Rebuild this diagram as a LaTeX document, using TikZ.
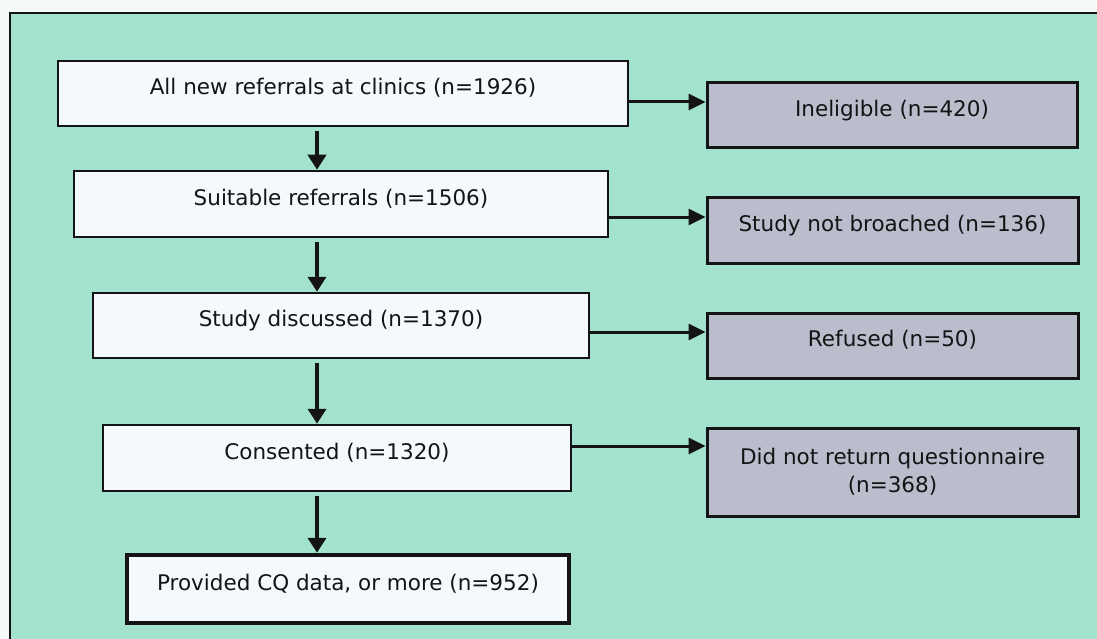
\documentclass[tikz,border=0pt]{standalone}
\usepackage{fontspec}
\setmainfont{DejaVu Sans}
\usetikzlibrary{arrows.meta}
\definecolor{pagebg}{HTML}{F3FAF8}
\definecolor{mint}{HTML}{A3E2CE}
\definecolor{boxwhite}{HTML}{F3F9FC}
\definecolor{boxgray}{HTML}{B9BDCC}
\definecolor{ink}{HTML}{141414}
\begin{document}
\begin{tikzpicture}[x=1pt,y=-1pt,
  box/.style={draw=ink, line width=2.5pt, fill=boxwhite, text height=12pt, text depth=10pt,
    font=\fontsize{21.5}{28}\selectfont, inner sep=0pt, text=ink},
  gbox/.style={box, fill=boxgray, line width=3pt},
  finalbox/.style={box, line width=4.5pt},
  varrow/.style={draw=ink, line width=4.5pt, shorten <=4pt, -{Triangle[length=15pt,width=18pt]}},
  harrow/.style={draw=ink, line width=3pt, -{Triangle[length=17pt,width=16pt]}}]
\useasboundingbox[fill=pagebg] (0,0) rectangle (1097,639);
\fill[mint] (10,13) rectangle (1097,639);
\draw[ink, line width=2.5pt] (10,639) -- (10,13) -- (1097,13);

\node[box, minimum width=570pt, minimum height=65pt] (b1) at (343,93.5) {All new referrals at clinics (n=1926)};
\node[box, minimum width=534pt, minimum height=66pt] (b2) at (341,204) {Suitable referrals (n=1506)};
\node[box, minimum width=496pt, minimum height=65pt] (b3) at (341,325.5) {Study discussed (n=1370)};
\node[box, minimum width=468pt, minimum height=66pt] (b4) at (337,458) {Consented (n=1320)};
\node[finalbox, minimum width=442pt, minimum height=68pt] (b5) at (348,589) {Provided CQ data, or more (n=952)};

\node[gbox, minimum width=370pt, minimum height=65pt] (r1) at (892,115.5) {Ineligible (n=420)};
\node[gbox, minimum width=371pt, minimum height=65pt] (r2) at (892.5,230.5) {Study not broached (n=136)};
\node[gbox, minimum width=371pt, minimum height=65pt] (r3) at (892.5,345.5) {Refused (n=50)};
\node[gbox, minimum width=371pt, minimum height=88pt, text height=, text depth=, align=center] (r4) at (892.5,472) {Did not return questionnaire\\(n=368)};

\coordinate (ax) at (317,0);
\draw[varrow] (b1.south -| ax) -- (b2.north -| ax);
\draw[varrow] (b2.south -| ax) -- (b3.north -| ax);
\draw[varrow] (b3.south -| ax) -- (b4.north -| ax);
\draw[varrow] (b4.south -| ax) -- (b5.north -| ax);

\coordinate (h1) at (0,102);
\coordinate (h2) at (0,217);
\coordinate (h3) at (0,332);
\coordinate (h4) at (0,446);
\draw[harrow] (b1.east |- h1) -- (r1.west |- h1);
\draw[harrow] (b2.east |- h2) -- (r2.west |- h2);
\draw[harrow] (b3.east |- h3) -- (r3.west |- h3);
\draw[harrow] (b4.east |- h4) -- (r4.west |- h4);
\end{tikzpicture}
\end{document}
